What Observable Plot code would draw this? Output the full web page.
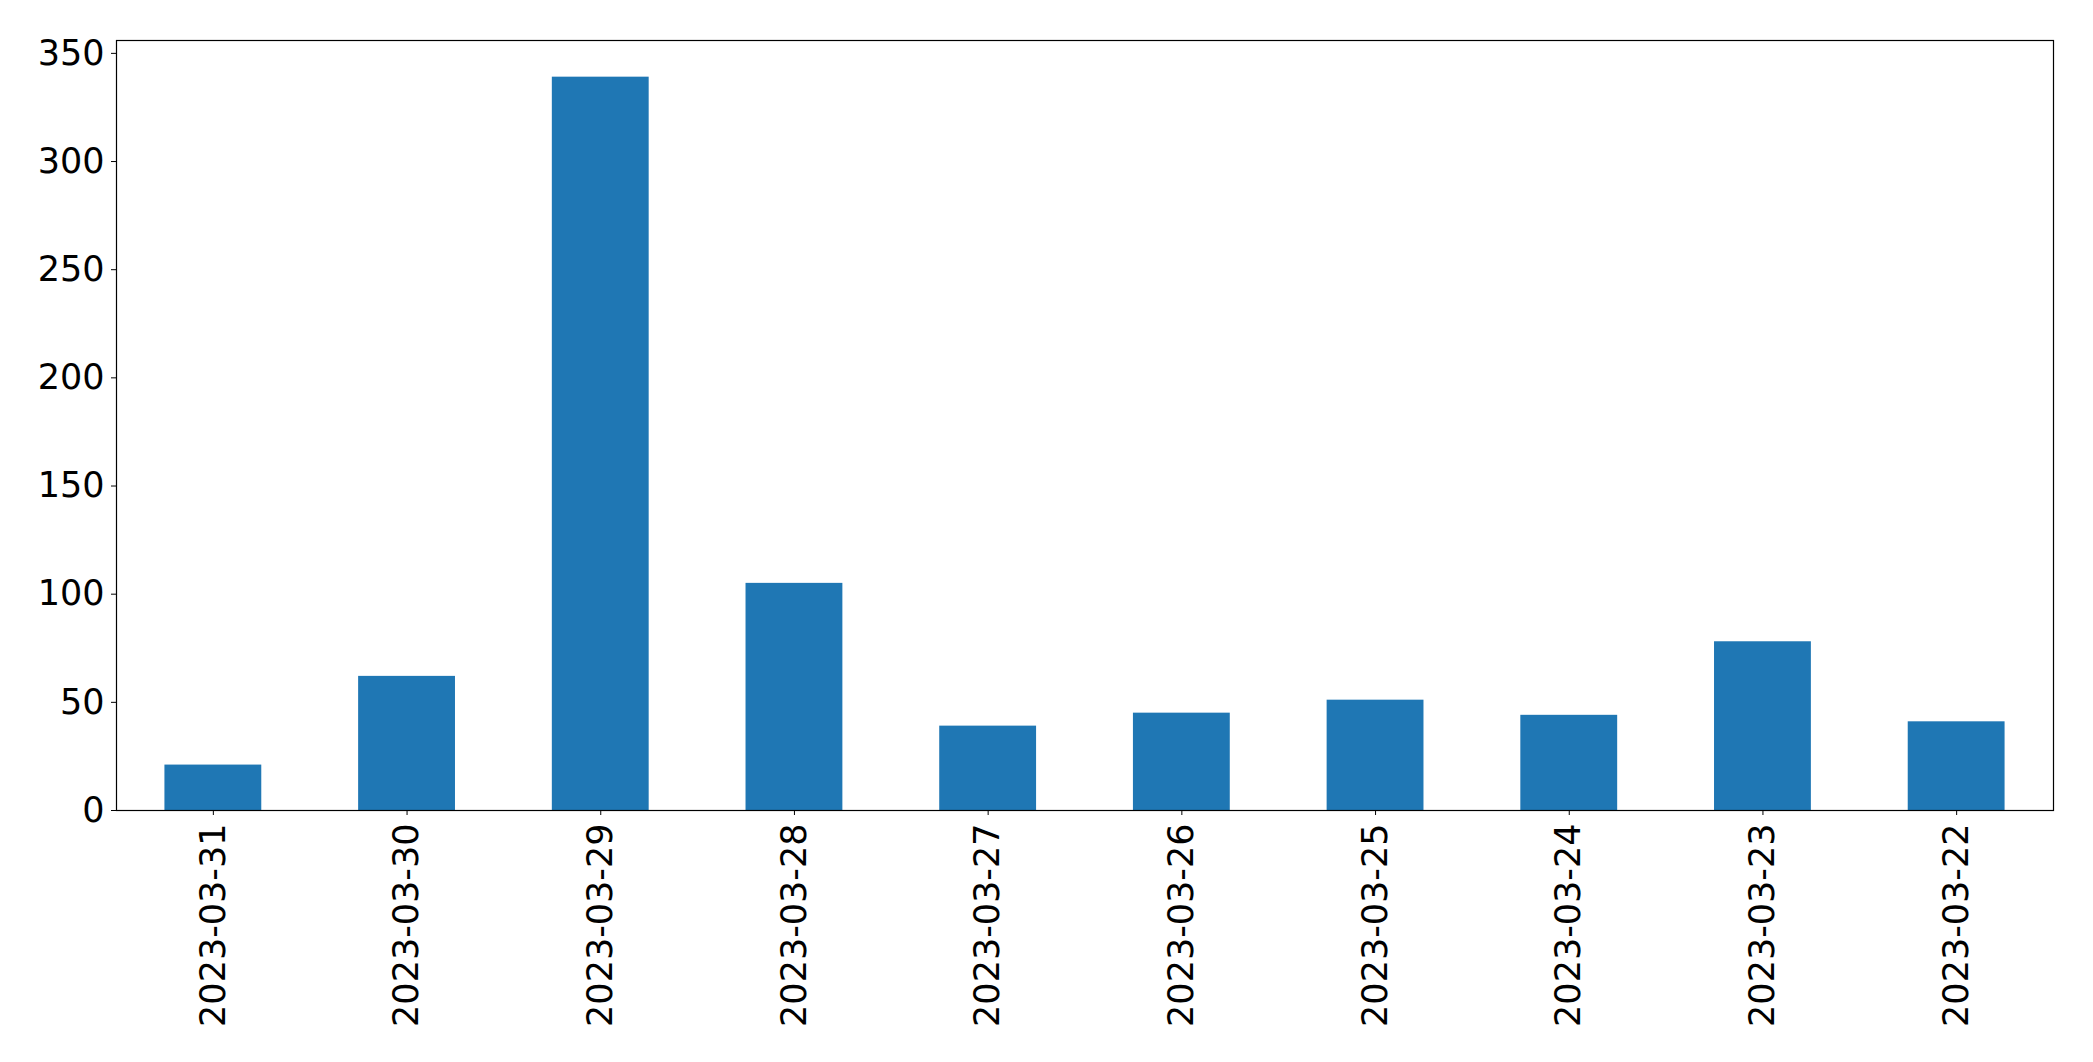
<!DOCTYPE html>
<html>
<head>
<meta charset="utf-8">
<script src="https://cdn.jsdelivr.net/npm/d3@7"></script>
<script src="https://cdn.jsdelivr.net/npm/@observablehq/plot@0.6"></script>
<style>
html, body { margin: 0; padding: 0; background: #fff; }
#chart svg { display: block; }
</style>
</head>
<body>
<div id="chart"></div>
<script>
const dates = ["2023-03-31", "2023-03-30", "2023-03-29", "2023-03-28", "2023-03-27",
               "2023-03-26", "2023-03-25", "2023-03-24", "2023-03-23", "2023-03-22"];
const counts = [21, 62, 339, 105, 39, 45, 51, 44, 78, 41];
const yTicks = [0, 50, 100, 150, 200, 250, 300, 350];

const data = dates.map((d, i) => ({date: d, count: counts[i]}));

const chart = Plot.plot({
  width: 2093,
  height: 1062,
  marginLeft: 116,
  marginRight: 40,
  marginTop: 40,
  marginBottom: 252,
  style: {fontFamily: "DejaVu Sans", fontSize: "35px", color: "black", background: "white"},
  x: {domain: dates, paddingInner: 0.5, paddingOuter: 0.25, round: false, label: null},
  y: {domain: [0, 355.95], label: null},
  marks: [
    Plot.barY(data, {x: "date", y: "count", fill: "#1f77b4"}),
    Plot.frame({stroke: "black", strokeWidth: 1.2}),
    Plot.axisY({ticks: yTicks, tickSize: 5, tickPadding: 7, label: null, fontSize: 35}),
    Plot.axisX({tickSize: 5, tickRotate: -90, tickPadding: 8, label: null, fontSize: 35})
  ]
});
document.getElementById("chart").appendChild(chart);
</script>
</body>
</html>
